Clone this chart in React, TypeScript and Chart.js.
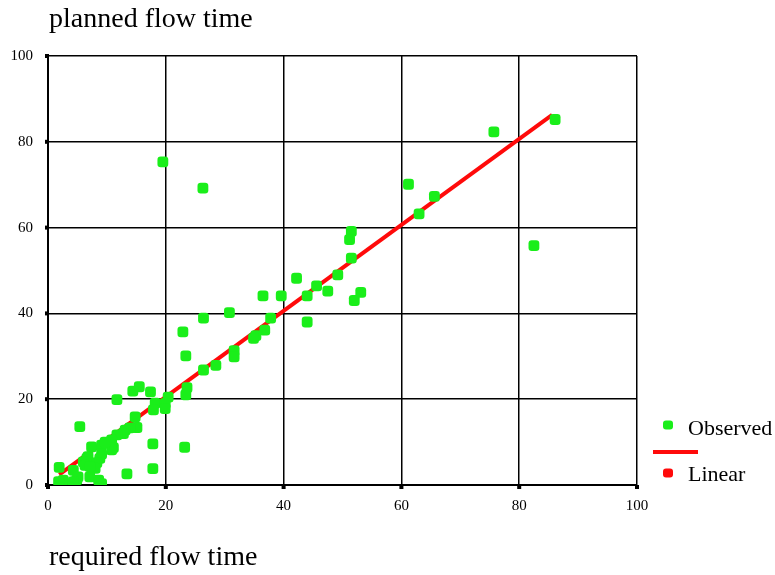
import React, { useEffect, useRef } from "react";
import { Chart, registerables } from "chart.js";

Chart.register(...registerables);

// Observed points: required flow time (x) vs planned flow time (y)
const OBS_X = [
  19.5, 26.3, 86.1, 75.7, 82.5, 61.2, 65.6, 63.0, 51.5, 51.2, 51.5, 49.2, 45.6, 47.5, 42.2, 44.0,
  53.1, 52.0, 36.5, 39.6, 26.4, 30.8, 44.0, 37.8, 36.8, 22.9, 35.3, 34.9, 23.4, 31.6, 31.6, 28.5,
  26.4, 23.6, 23.4, 20.4, 17.4, 15.5, 14.4, 11.7, 18.2, 19.9, 17.9, 19.9, 14.8, 15.1, 13.9, 13.1,
  12.8, 11.7, 10.8, 11.1, 10.8, 9.1, 7.4, 5.4, 17.8, 23.2, 9.1, 8.8, 6.8, 6.6, 6.0, 8.3, 6.3, 8.0,
  7.1, 4.3, 1.9, 13.4, 17.8, 2.6, 4.9, 5.1, 7.1, 8.6, 1.8, 9.1, 4.3, 9.7,
];
const OBS_Y = [
  75.3, 69.2, 85.2, 82.3, 55.8, 70.1, 67.3, 63.2, 59.1, 57.2, 52.9, 49.0, 46.4, 45.2, 48.2, 44.1,
  44.9, 43.0, 44.1, 44.1, 38.9, 40.2, 38.0, 38.9, 36.1, 35.7, 34.8, 34.2, 30.1, 31.3, 29.9, 27.9,
  26.8, 22.7, 21.0, 20.5, 21.7, 22.9, 21.9, 19.9, 19.1, 19.0, 17.5, 17.8, 15.9, 13.4, 13.3, 12.8,
  12.0, 11.7, 10.5, 8.7, 8.2, 9.3, 8.9, 13.6, 9.6, 8.8, 7.2, 6.2, 6.6, 6.2, 5.4, 5.2, 4.6, 3.9,
  4.3, 3.4, 4.1, 2.6, 3.8, 1.1, 1.2, 1.9, 1.9, 1.1, 0.8, 0.3, 0.8, 10.0,
];

// Linear fit line endpoints
const LIN_X = [1.9, 85.6];
const LIN_Y = [2.4, 86.3];

const X_TICKS = [0, 20, 40, 60, 80, 100];
const Y_TICKS = [0, 20, 40, 60, 80, 100];

const Y_TITLE = "planned flow time";
const X_TITLE = "required flow time";
const LEGEND_LABELS = ["Observed", "Linear"];

const GREEN = "#1aee1a";
const RED = "#ff0a0a";
const FONT = "'Liberation Serif', 'Times New Roman', serif";

const decorPlugin = {
  id: "decor",
  afterDraw(chart: any) {
    const ctx = chart.ctx as CanvasRenderingContext2D;
    const xs = chart.scales.x;
    const ys = chart.scales.y;
    const area = chart.chartArea;
    ctx.save();
    // tick squares
    ctx.fillStyle = "#000";
    Y_TICKS.forEach((v) => {
      const py = ys.getPixelForValue(v);
      ctx.fillRect(area.left - 3, py - 2, 4, 4);
    });
    X_TICKS.forEach((v) => {
      const px = xs.getPixelForValue(v);
      ctx.fillRect(px - 2, area.bottom, 4, 4);
    });
    // titles
    ctx.fillStyle = "#000";
    ctx.textAlign = "left";
    ctx.textBaseline = "alphabetic";
    ctx.font = `28px ${FONT}`;
    ctx.fillText(Y_TITLE, 49, 27);
    ctx.fillText(X_TITLE, 49, 565);
    // legend
    const lx = 668;
    ctx.fillStyle = GREEN;
    ctx.beginPath();
    (ctx as any).roundRect(lx - 5, 425 - 4.5, 10, 9, 3);
    ctx.fill();
    ctx.strokeStyle = RED;
    ctx.lineWidth = 4;
    ctx.beginPath();
    ctx.moveTo(653, 452);
    ctx.lineTo(698, 452);
    ctx.stroke();
    ctx.fillStyle = RED;
    ctx.beginPath();
    (ctx as any).roundRect(lx - 5, 473 - 4.5, 10, 9, 3);
    ctx.fill();
    ctx.fillStyle = "#000";
    ctx.font = `22px ${FONT}`;
    ctx.fillText(LEGEND_LABELS[0], 688, 435);
    ctx.fillText(LEGEND_LABELS[1], 688, 481);
    ctx.restore();
  },
};

export default function App() {
  const ref = useRef<HTMLCanvasElement | null>(null);
  useEffect(() => {
    if (!ref.current) return;
    const obs = OBS_X.map((x, i) => ({ x, y: OBS_Y[i] }));
    const lin = LIN_X.map((x, i) => ({ x, y: LIN_Y[i] }));
    const chart = new Chart(ref.current, {
      type: "scatter",
      data: {
        datasets: [
          {
            label: LEGEND_LABELS[0],
            data: obs,
            pointStyle: "rectRounded",
            pointRadius: 6.3,
            backgroundColor: GREEN,
            borderColor: GREEN,
            borderWidth: 0,
            order: 0,
          },
          {
            label: LEGEND_LABELS[1],
            data: lin,
            showLine: true,
            borderColor: RED,
            borderWidth: 4,
            pointRadius: 0,
            order: 1,
          } as any,
        ],
      },
      options: {
        animation: false,
        responsive: false,
        maintainAspectRatio: false,
        layout: { padding: { top: 56, right: 138, left: 0, bottom: 0 } },
        plugins: { legend: { display: false }, tooltip: { enabled: false } },
        scales: {
          x: {
            type: "linear",
            min: 0,
            max: 100,
            afterFit: (s: any) => {
              s.height = 90;
            },
            afterBuildTicks: (s: any) => {
              s.ticks = X_TICKS.map((v) => ({ value: v }));
            },
            ticks: {
              color: "#000",
              font: { family: FONT, size: 15 },
              padding: 12,
              maxRotation: 0,
            },
            grid: { color: "#000", lineWidth: 1.5, drawTicks: false },
            border: { color: "#000", width: 2 },
          },
          y: {
            type: "linear",
            min: 0,
            max: 100,
            afterFit: (s: any) => {
              s.width = 48;
            },
            afterBuildTicks: (s: any) => {
              s.ticks = Y_TICKS.map((v) => ({ value: v }));
            },
            ticks: {
              color: "#000",
              font: { family: FONT, size: 15 },
              padding: 15,
            },
            grid: { color: "#000", lineWidth: 1.5, drawTicks: false },
            border: { color: "#000", width: 2 },
          },
        },
      },
      plugins: [decorPlugin],
    });
    return () => chart.destroy();
  }, []);
  return (
    <div style={{ position: "fixed", left: 0, top: 0, width: 775, height: 575, background: "#fff" }}>
      <canvas ref={ref} width={775} height={575} style={{ width: 775, height: 575 }} />
    </div>
  );
}
